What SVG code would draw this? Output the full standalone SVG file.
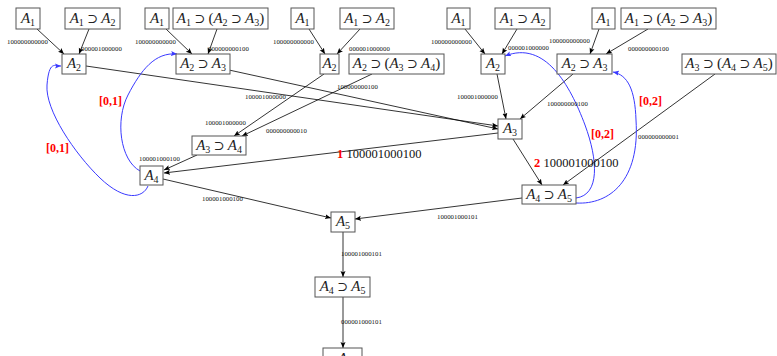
<svg xmlns="http://www.w3.org/2000/svg" width="777" height="356" viewBox="0 0 777 356">
<style>
.bx{fill:#fff;stroke:#555;stroke-width:1}
.m{font-family:"Liberation Serif","DejaVu Serif",serif;font-size:15px;fill:#222;text-anchor:middle}
.i{font-style:italic}
.s{font-size:10px}
.o{font-size:13px}
.el{font-family:"Liberation Serif",serif;font-size:6.8px;fill:#111}
.big{font-family:"Liberation Serif",serif;font-size:12.5px;fill:#111}
.rl{font-family:"Liberation Serif",serif;font-size:12px;font-weight:bold;fill:#f00}
.r{fill:#f00;font-weight:bold}
.e{stroke:#000;stroke-width:0.8;fill:none;marker-end:url(#a)}
.b{stroke:#3a3aff;stroke-width:1;fill:none;marker-end:url(#ab)}
</style>
<defs>
<marker id="a" markerUnits="userSpaceOnUse" markerWidth="7" markerHeight="6" refX="6" refY="3" orient="auto"><path d="M0,0.5 L6,3 L0,5.5 L1.2,3 z" fill="#000"/></marker>
<marker id="ab" markerUnits="userSpaceOnUse" markerWidth="7" markerHeight="6" refX="6" refY="3" orient="auto"><path d="M0,0.5 L6,3 L0,5.5 L1.2,3 z" fill="#3a3aff"/></marker>
</defs>
<rect width="777" height="356" fill="#fff"/>
<g id="connectors">
<line class="e" x1="37" y1="29" x2="64" y2="54"/>
<line class="e" x1="89" y1="29" x2="79" y2="54"/>
<line class="e" x1="166" y1="29" x2="192" y2="54"/>
<line class="e" x1="217" y1="29" x2="208" y2="54"/>
<line class="e" x1="309" y1="29" x2="325" y2="54"/>
<line class="e" x1="360" y1="29" x2="337" y2="54"/>
<line class="e" x1="465" y1="29" x2="485" y2="54"/>
<line class="e" x1="517" y1="29" x2="502" y2="54"/>
<line class="e" x1="599" y1="29" x2="590" y2="54"/>
<line class="e" x1="648" y1="29" x2="606" y2="54"/>
<line class="e" x1="86" y1="66" x2="498" y2="126"/>
<line class="e" x1="229" y1="70" x2="498" y2="129"/>
<line class="e" x1="497" y1="74" x2="506" y2="119"/>
<line class="e" x1="573" y1="74" x2="520" y2="119"/>
<line class="e" x1="324" y1="74" x2="234" y2="136"/>
<line class="e" x1="372" y1="74" x2="242" y2="136"/>
<line class="e" x1="197" y1="155" x2="164" y2="170"/>
<line class="e" x1="498" y1="133" x2="164" y2="173"/>
<line class="e" x1="513" y1="139" x2="542" y2="185"/>
<line class="e" x1="715" y1="74" x2="563" y2="185"/>
<line class="e" x1="163" y1="179" x2="331" y2="218"/>
<line class="e" x1="522" y1="198" x2="355" y2="219"/>
<line class="e" x1="343" y1="232" x2="343" y2="277"/>
<line class="e" x1="343" y1="297" x2="343" y2="348"/>
<path class="b" d="M148,186 C143,198 125,202 100,178 S45,110 47,85 S55,66 61,66"/>
<path class="b" d="M140,171 C120,160 115,120 128,95 S155,52 177,54"/>
<path class="b" d="M576,198 C600,195 598,160 585,125 C570,85 545,40 505,56"/>
<path class="b" d="M576,203 C610,205 640,180 636,120 C635,90 628,75 613,72"/>
<g class="el">
<text x="7" y="44">100000000000</text>
<text x="81" y="51">000001000000</text>
<text x="135" y="44">100000000000</text>
<text x="208" y="51">000000000100</text>
<text x="273" y="44">100000000000</text>
<text x="349" y="51">000001000000</text>
<text x="431" y="44">100000000000</text>
<text x="508" y="50">000001000000</text>
<text x="549" y="43">100000000000</text>
<text x="628" y="51">000000000100</text>
<text x="337" y="89">100000000100</text>
<text x="245" y="99">100001000000</text>
<text x="457" y="99">100001000000</text>
<text x="547" y="106">100000000100</text>
<text x="205" y="125">100001000000</text>
<text x="266" y="133">000000000010</text>
<text x="139" y="161">100001000100</text>
<text x="638" y="139">000000000001</text>
<text x="202" y="201">100001000100</text>
<text x="437" y="219">100001000101</text>
<text x="341" y="256">100001000101</text>
<text x="341" y="324">000001000101</text>
</g>
<text class="big" x="337" y="158"><tspan class="r">1</tspan> 100001000100</text>
<text class="big" x="534" y="167"><tspan class="r">2</tspan> 100001000100</text>
<text class="rl" x="99" y="105">[0,1]</text>
<text class="rl" x="46" y="152">[0,1]</text>
<text class="rl" x="639" y="105">[0,2]</text>
<text class="rl" x="591" y="138">[0,2]</text>
</g>
<g id="n1"><rect class="bx" x="16" y="8" width="24" height="21"/><text class="m" x="28" y="23"><tspan class="i">A</tspan><tspan class="s" dy="3">1</tspan></text></g>
<g id="n2"><rect class="bx" x="65" y="8" width="55" height="21"/><text class="m" x="92.5" y="23"><tspan class="i">A</tspan><tspan class="s" dy="3">1</tspan><tspan class="o" dy="-3"> ⊃ </tspan><tspan class="i">A</tspan><tspan class="s" dy="3">2</tspan></text></g>
<g id="n3"><rect class="bx" x="62" y="54" width="24" height="20"/><text class="m" x="74" y="68"><tspan class="i">A</tspan><tspan class="s" dy="3">2</tspan></text></g>
<g id="n4"><rect class="bx" x="145" y="8" width="24" height="21"/><text class="m" x="157" y="23"><tspan class="i">A</tspan><tspan class="s" dy="3">1</tspan></text></g>
<g id="n5"><rect class="bx" x="173" y="8" width="95" height="21"/><text class="m" x="220.5" y="23"><tspan class="i">A</tspan><tspan class="s" dy="3">1</tspan><tspan class="o" dy="-3"> ⊃ </tspan><tspan>(</tspan><tspan class="i">A</tspan><tspan class="s" dy="3">2</tspan><tspan class="o" dy="-3"> ⊃ </tspan><tspan class="i">A</tspan><tspan class="s" dy="3">3</tspan><tspan dy="-3">)</tspan></text></g>
<g id="n6"><rect class="bx" x="176" y="54" width="54" height="20"/><text class="m" x="203" y="68"><tspan class="i">A</tspan><tspan class="s" dy="3">2</tspan><tspan class="o" dy="-3"> ⊃ </tspan><tspan class="i">A</tspan><tspan class="s" dy="3">3</tspan></text></g>
<g id="n7"><rect class="bx" x="291" y="8" width="23" height="21"/><text class="m" x="302.5" y="23"><tspan class="i">A</tspan><tspan class="s" dy="3">1</tspan></text></g>
<g id="n8"><rect class="bx" x="340" y="8" width="54" height="21"/><text class="m" x="367" y="23"><tspan class="i">A</tspan><tspan class="s" dy="3">1</tspan><tspan class="o" dy="-3"> ⊃ </tspan><tspan class="i">A</tspan><tspan class="s" dy="3">2</tspan></text></g>
<g id="n9"><rect class="bx" x="320" y="54" width="19" height="20"/><text class="m" x="329.5" y="68"><tspan class="i">A</tspan><tspan class="s" dy="3">2</tspan></text></g>
<g id="n10"><rect class="bx" x="349" y="54" width="95" height="20"/><text class="m" x="396.5" y="68"><tspan class="i">A</tspan><tspan class="s" dy="3">2</tspan><tspan class="o" dy="-3"> ⊃ </tspan><tspan>(</tspan><tspan class="i">A</tspan><tspan class="s" dy="3">3</tspan><tspan class="o" dy="-3"> ⊃ </tspan><tspan class="i">A</tspan><tspan class="s" dy="3">4</tspan><tspan dy="-3">)</tspan></text></g>
<g id="n11"><rect class="bx" x="447" y="8" width="23" height="21"/><text class="m" x="458.5" y="23"><tspan class="i">A</tspan><tspan class="s" dy="3">1</tspan></text></g>
<g id="n12"><rect class="bx" x="495" y="8" width="55" height="21"/><text class="m" x="522.5" y="23"><tspan class="i">A</tspan><tspan class="s" dy="3">1</tspan><tspan class="o" dy="-3"> ⊃ </tspan><tspan class="i">A</tspan><tspan class="s" dy="3">2</tspan></text></g>
<g id="n13"><rect class="bx" x="481" y="54" width="24" height="20"/><text class="m" x="493" y="68"><tspan class="i">A</tspan><tspan class="s" dy="3">2</tspan></text></g>
<g id="n14"><rect class="bx" x="592" y="8" width="23" height="21"/><text class="m" x="603.5" y="23"><tspan class="i">A</tspan><tspan class="s" dy="3">1</tspan></text></g>
<g id="n15"><rect class="bx" x="621" y="8" width="95" height="21"/><text class="m" x="668.5" y="23"><tspan class="i">A</tspan><tspan class="s" dy="3">1</tspan><tspan class="o" dy="-3"> ⊃ </tspan><tspan>(</tspan><tspan class="i">A</tspan><tspan class="s" dy="3">2</tspan><tspan class="o" dy="-3"> ⊃ </tspan><tspan class="i">A</tspan><tspan class="s" dy="3">3</tspan><tspan dy="-3">)</tspan></text></g>
<g id="n16"><rect class="bx" x="557" y="54" width="55" height="20"/><text class="m" x="584.5" y="68"><tspan class="i">A</tspan><tspan class="s" dy="3">2</tspan><tspan class="o" dy="-3"> ⊃ </tspan><tspan class="i">A</tspan><tspan class="s" dy="3">3</tspan></text></g>
<g id="n17"><rect class="bx" x="682" y="54" width="94" height="20"/><text class="m" x="729" y="68"><tspan class="i">A</tspan><tspan class="s" dy="3">3</tspan><tspan class="o" dy="-3"> ⊃ </tspan><tspan>(</tspan><tspan class="i">A</tspan><tspan class="s" dy="3">4</tspan><tspan class="o" dy="-3"> ⊃ </tspan><tspan class="i">A</tspan><tspan class="s" dy="3">5</tspan><tspan dy="-3">)</tspan></text></g>
<g id="n18"><rect class="bx" x="498" y="119" width="24" height="20"/><text class="m" x="510" y="133"><tspan class="i">A</tspan><tspan class="s" dy="3">3</tspan></text></g>
<g id="n19"><rect class="bx" x="192" y="136" width="54" height="19"/><text class="m" x="219" y="150"><tspan class="i">A</tspan><tspan class="s" dy="3">3</tspan><tspan class="o" dy="-3"> ⊃ </tspan><tspan class="i">A</tspan><tspan class="s" dy="3">4</tspan></text></g>
<g id="n20"><rect class="bx" x="140" y="166" width="23" height="19"/><text class="m" x="151.5" y="180"><tspan class="i">A</tspan><tspan class="s" dy="3">4</tspan></text></g>
<g id="n21"><rect class="bx" x="522" y="185" width="54" height="19"/><text class="m" x="549" y="199"><tspan class="i">A</tspan><tspan class="s" dy="3">4</tspan><tspan class="o" dy="-3"> ⊃ </tspan><tspan class="i">A</tspan><tspan class="s" dy="3">5</tspan></text></g>
<g id="n22"><rect class="bx" x="331" y="212" width="24" height="20"/><text class="m" x="343" y="226"><tspan class="i">A</tspan><tspan class="s" dy="3">5</tspan></text></g>
<g id="n23"><rect class="bx" x="315" y="277" width="55" height="20"/><text class="m" x="342.5" y="291"><tspan class="i">A</tspan><tspan class="s" dy="3">4</tspan><tspan class="o" dy="-3"> ⊃ </tspan><tspan class="i">A</tspan><tspan class="s" dy="3">5</tspan></text></g>
<g id="n24"><rect class="bx" x="323" y="348" width="39" height="20"/><text class="m" x="342.5" y="363"><tspan class="i">A</tspan></text></g>
</svg>
